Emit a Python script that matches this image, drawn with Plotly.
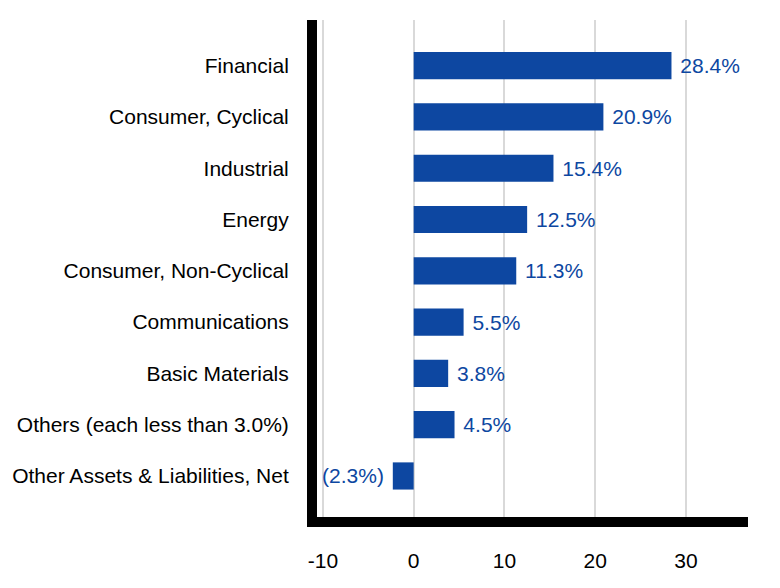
import plotly.graph_objects as go

categories = [
    "Financial",
    "Consumer, Cyclical",
    "Industrial",
    "Energy",
    "Consumer, Non-Cyclical",
    "Communications",
    "Basic Materials",
    "Others (each less than 3.0%)",
    "Other Assets & Liabilities, Net",
]
values = [28.4, 20.9, 15.4, 12.5, 11.3, 5.5, 3.8, 4.5, -2.3]
tick_values = [-10, 0, 10, 20, 30]
tick_labels = ["-10", "0", "10", "20", "30"]

NBSP = "\u00a0"


def fmt(v):
    if v < 0:
        return f"({abs(v):.1f}%){NBSP}"
    return f"{NBSP}{v:.1f}%"


labels = [fmt(v) for v in values]

BLUE = "#0D47A1"
FONT = "Arial, Liberation Sans, sans-serif"

fig = go.Figure(
    go.Bar(
        x=values,
        y=categories,
        orientation="h",
        marker=dict(color=BLUE, line=dict(width=0)),
        text=labels,
        textposition="outside",
        textfont=dict(family=FONT, size=21, color=BLUE),
        cliponaxis=False,
        hoverinfo="skip",
    )
)

fig.update_layout(
    width=780,
    height=588,
    margin=dict(l=309, r=40, t=12, b=79, autoexpand=False),
    paper_bgcolor="white",
    plot_bgcolor="white",
    bargap=0.47,
    showlegend=False,
    font=dict(family=FONT, size=21, color="black"),
    xaxis=dict(
        range=[-10.65, 36.83],
        tickvals=tick_values,
        ticktext=tick_labels,
        showgrid=True,
        gridcolor="#d9d9d9",
        gridwidth=2,
        zeroline=False,
        showline=True,
        linecolor="black",
        linewidth=10,
        ticks="",
        automargin=False,
        ticklabelstandoff=16,
        tickfont=dict(family=FONT, size=21, color="black"),
    ),
    yaxis=dict(
        type="category",
        range=[8.8, -0.89],
        showgrid=False,
        zeroline=False,
        showline=True,
        linecolor="black",
        linewidth=10,
        ticks="",
        automargin=False,
        ticklabelstandoff=14,
        tickfont=dict(family=FONT, size=21, color="black"),
    ),
)

fig.write_html("out.html")
